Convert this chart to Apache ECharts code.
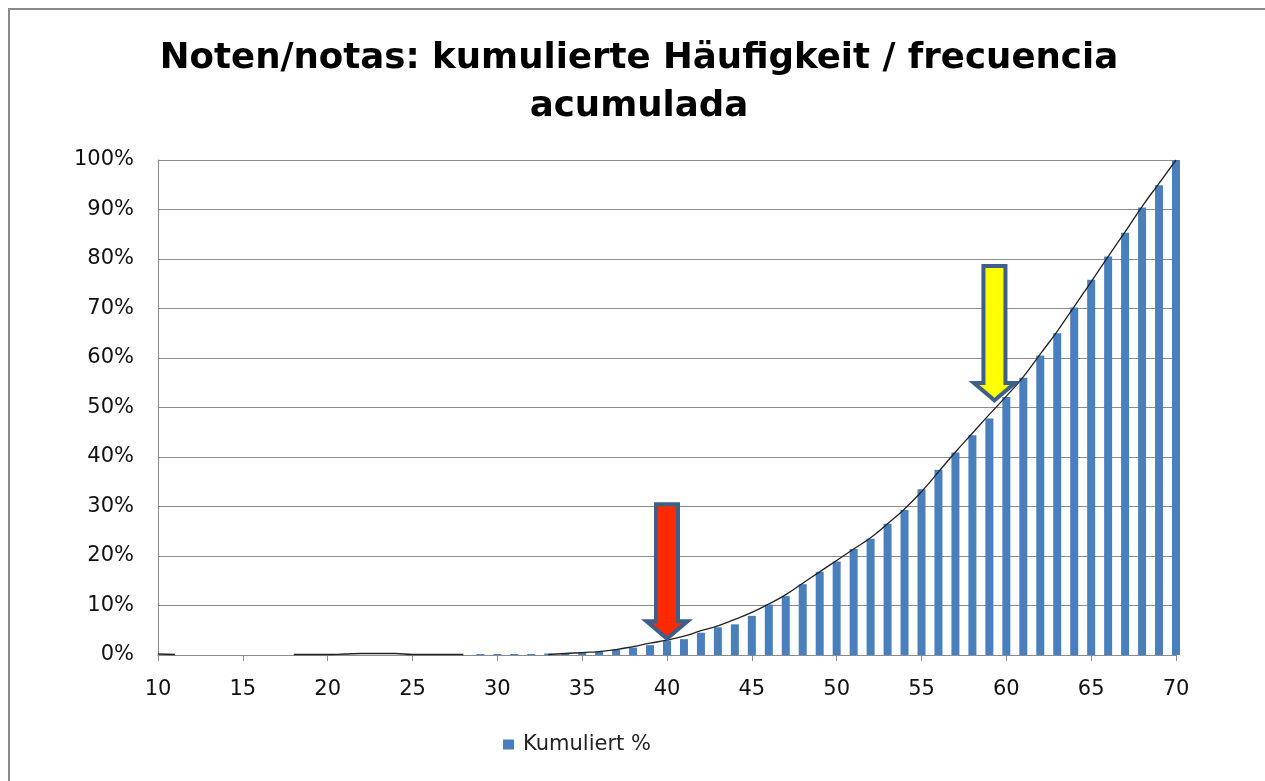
<!DOCTYPE html>
<html>
<head>
<meta charset="utf-8">
<script src="https://cdn.jsdelivr.net/npm/echarts@6/dist/echarts.min.js"></script>
<style>
  html, body { margin: 0; padding: 0; background: #ffffff; overflow: hidden; }
  #frame { position: absolute; left: 8px; top: 8px; width: 1300px; height: 820px;
           border-left: 2px solid #8a8a8a; border-top: 2px solid #8a8a8a; box-sizing: border-box; }
  #chart { position: absolute; left: 0; top: 0; width: 1265px; height: 781px; }
</style>
</head>
<body>
<div id="frame"></div>
<div id="chart"></div>
<script>
// Grades (x categories, numeric)
const grades = [10,11,12,13,14,15,16,17,18,19,20,21,22,23,24,25,26,27,28,29,30,
                31,32,33,34,35,36,37,38,39,40,41,42,43,44,45,46,47,48,49,50,
                51,52,53,54,55,56,57,58,59,60,61,62,63,64,65,66,67,68,69,70];
// Kumuliert % (bar heights)
const kumuliert = [0,0,0,0,0,0,0,0,0,0,0,0,0,0,0,0,0,0,0,0.2,0.2,
                   0.2,0.2,0.3,0.4,0.6,0.7,1.1,1.5,2.0,2.9,3.2,4.5,5.6,6.2,7.9,10.2,11.9,14.3,16.8,18.9,
                   21.4,23.5,26.5,29.3,33.5,37.4,40.9,44.4,47.8,52.1,56.0,60.5,65.0,70.2,75.8,80.5,85.3,90.4,94.9,100];
// Smooth black curve (null = gap)
const curve = [0.2,0.1,null,null,null,null,null,null,0.1,0.1,0.1,0.2,0.3,0.3,0.3,0.1,0.1,0.1,0.1,null,null,
               null,null,0.1,0.3,0.5,0.7,1.1,1.7,2.4,3.0,3.8,4.9,5.9,7.2,8.6,10.3,12.2,14.5,16.8,19.1,
               21.4,23.7,26.5,29.5,33.0,37.0,41.0,44.8,48.6,52.3,56.2,60.8,65.4,70.4,75.4,80.5,85.5,90.6,95.3,100];
// Arrow annotations [grade, percent at tip]
const redArrow = [40, 2.8];
const yellowArrow = [59.3, 50.9];

const titleText = 'Noten/notas: kumulierte Häufigkeit / frecuencia\nacumulada';
const seriesName = 'Kumuliert %';

// arrow shapes (outer dark outline + inner fill), drawn at real pixel size
const arrowOuter = 'path://M13,0 L39,0 L39,117 L52,117 L26,139 L0,117 L13,117 Z';
const arrowInner = 'path://M17,4 L35,4 L35,121 L41,121 L26,133.8 L11,121 L17,121 Z';
const outlineColor = '#3d5f8a';

function arrow(coord, fill) {
  return [
    { coord: coord, symbol: arrowOuter, symbolSize: [52, 139], symbolOffset: [0, -69.5],
      itemStyle: { color: outlineColor, borderWidth: 0 } },
    { coord: coord, symbol: arrowInner, symbolSize: [30, 129.8], symbolOffset: [0, -70.1],
      itemStyle: { color: fill, borderWidth: 0 } }
  ];
}

const chart = echarts.init(document.getElementById('chart'), null, { renderer: 'canvas' });
chart.setOption({
  backgroundColor: 'transparent',
  animation: false,
  title: {
    text: titleText,
    left: 634,
    textAlign: 'center',
    top: 30,
    textStyle: { fontFamily: 'DejaVu Sans', fontWeight: 'bold', fontSize: 35.6, lineHeight: 48, color: '#000' }
  },
  legend: {
    data: [seriesName],
    left: 503,
    top: 734,
    padding: 0,
    icon: 'rect',
    itemWidth: 11,
    itemHeight: 10,
    textStyle: { fontFamily: 'DejaVu Sans', fontSize: 21, color: '#222', padding: [0, 0, 0, 4] }
  },
  grid: { left: 158, right: 89, top: 160, bottom: 126, containLabel: false },
  xAxis: {
    type: 'value',
    min: 10, max: 70, interval: 5,
    axisLine: { show: true, lineStyle: { color: '#8c8c8c', width: 1 } },
    axisTick: { show: true, length: 6, lineStyle: { color: '#8c8c8c' } },
    axisLabel: { margin: 24, fontFamily: 'DejaVu Sans', fontSize: 21, color: '#111' },
    splitLine: { show: false }
  },
  yAxis: {
    type: 'value',
    min: 0, max: 100, interval: 10,
    axisLine: { show: true, lineStyle: { color: '#8c8c8c', width: 1 } },
    axisTick: { show: false },
    axisLabel: { margin: 24, formatter: '{value}%', fontFamily: 'DejaVu Sans', fontSize: 21, color: '#111' },
    splitLine: { show: true, lineStyle: { color: '#8c8c8c', width: 1 } }
  },
  series: [
    {
      name: seriesName,
      type: 'bar',
      barWidth: 8,
      itemStyle: { color: '#4a7fbd' },
      data: grades.map((g, i) => [g, kumuliert[i]]),
      z: 2,
      markPoint: {
        label: { show: false },
        silent: true,
        data: arrow(redArrow, '#ff2a00').concat(arrow(yellowArrow, '#ffff00'))
      }
    },
    {
      name: 'curve',
      type: 'line',
      smooth: true,
      showSymbol: false,
      symbol: 'none',
      connectNulls: false,
      lineStyle: { color: '#222', width: 1.3 },
      data: grades.map((g, i) => [g, curve[i]]),
      z: 3
    }
  ]
});
</script>
</body>
</html>
